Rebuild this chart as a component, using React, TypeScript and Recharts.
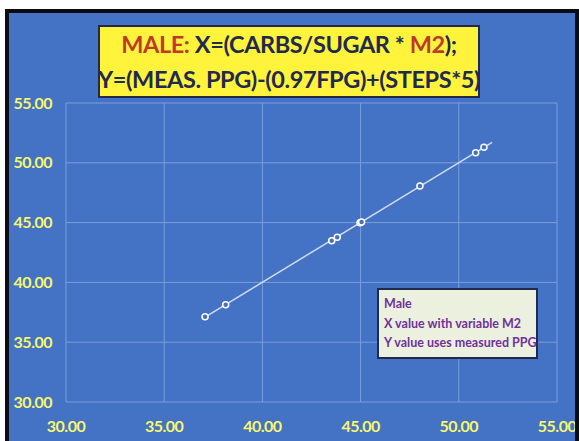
import React from 'react';
import { ScatterChart, Scatter, XAxis, YAxis, CartesianGrid } from 'recharts';

// measured points (x = carbs/sugar * M2, y = adjusted PPG)
const xValues = [37.08, 38.13, 43.53, 43.81, 44.97, 45.05, 48.02, 50.86, 51.28];
const yValues = [37.13, 38.14, 43.49, 43.77, 44.99, 45.04, 48.06, 50.85, 51.29];

// linear trendline end points
const trendX = [37.08, 51.7];
const trendY = [37.1, 51.7];

const axisTicks = [30, 35, 40, 45, 50, 55];
const legendLines = ['Male', 'X value with variable M2', 'Y value uses measured PPG'];

const points = xValues.map((x, i) => ({ x, y: yValues[i] }));
const trend = trendX.map((x, i) => ({ x, y: trendY[i] }));

const BLUE = '#4472C4';
const YELLOW = '#F7F76A';
const NAVY = '#1F2A4E';
const RED = '#C0392B';

const tickStyle = { fill: YELLOW, fontSize: 16, fontWeight: 700, fontFamily: 'Lato', letterSpacing: -0.5 };

const App: React.FC = () => {
  return (
    <div
      style={{
        position: 'absolute',
        left: 5,
        top: 9,
        width: 566,
        height: 432,
        background: BLUE,
        borderTop: '4px solid #0b0b14',
        borderLeft: '4px solid #0b0b14',
        borderRight: '4px solid #0b0b14',
        fontFamily: 'Lato, sans-serif',
        overflow: 'hidden',
      }}
    >
      <ScatterChart width={566} height={428} margin={{ top: 90, right: 18, bottom: 0, left: 7 }}>
        <CartesianGrid stroke="#7C9DDB" strokeWidth={1} />
        <XAxis
          type="number"
          dataKey="x"
          domain={[30, 55]}
          ticks={axisTicks}
          tickFormatter={(v: number) => v.toFixed(2)}
          axisLine={false}
          tickLine={false}
          tick={tickStyle}
          tickMargin={13}
          height={39}
          interval={0}
        />
        <YAxis
          type="number"
          dataKey="y"
          domain={[30, 55]}
          ticks={axisTicks}
          tickFormatter={(v: number) => v.toFixed(2)}
          axisLine={false}
          tickLine={false}
          tick={tickStyle}
          tickMargin={8}
          width={50}
          interval={0}
        />
        <Scatter
          data={trend}
          line={{ stroke: '#CFDCF3', strokeWidth: 1.5 }}
          lineType="joint"
          shape={() => <g />}
          isAnimationActive={false}
        />
        <Scatter
          data={points}
          shape={(p: any) => (
            <circle cx={p.cx} cy={p.cy} r={3} fill={BLUE} stroke="#FFFFFF" strokeWidth={1.5} />
          )}
          isAnimationActive={false}
        />
      </ScatterChart>

      <div
        style={{
          position: 'absolute',
          left: 89,
          top: 12,
          width: 378,
          height: 69,
          background: '#FFF33B',
          border: `2px solid ${NAVY}`,
          color: NAVY,
          fontWeight: 700,
          fontSize: 23.5,
          lineHeight: '35px',
          display: 'flex',
          flexDirection: 'column',
          alignItems: 'center',
          whiteSpace: 'nowrap',
          letterSpacing: -0.4,
        }}
      >
        <div>
          <span style={{ color: RED }}>MALE:</span>
          {' X=(CARBS/SUGAR * '}
          <span style={{ color: RED }}>M2</span>
          {');'}
        </div>
        <div>Y=(MEAS. PPG)-(0.97FPG)+(STEPS*5)</div>
      </div>

      <div
        style={{
          position: 'absolute',
          left: 368,
          top: 275,
          width: 152,
          height: 63,
          background: '#EBF1DE',
          border: `2px solid ${NAVY}`,
          color: '#7030A0',
          fontWeight: 700,
          fontSize: 12.5,
          lineHeight: '19.5px',
          padding: '4px 0 0 5px',
          whiteSpace: 'nowrap',
          boxSizing: 'content-box',
        }}
      >
        {legendLines.map((t) => (
          <div key={t}>{t}</div>
        ))}
      </div>
    </div>
  );
};

export default App;
